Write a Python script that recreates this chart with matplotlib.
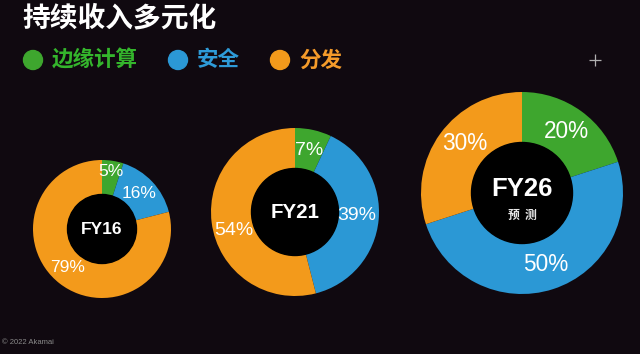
import numpy as np
import matplotlib
matplotlib.use("Agg")
import matplotlib.pyplot as plt
from matplotlib.patches import Circle

plt.rcParams['font.family'] = ['Liberation Sans', 'Noto Sans CJK SC', 'DejaVu Sans']

# ---- data ----
title = "持续收入多元化"
categories = ["边缘计算", "安全", "分发"]
years = ["FY16", "FY21", "FY26"]
year_sub = ["", "", "预测"]
shares = {
    "FY16": [5, 16, 79],
    "FY21": [7, 39, 54],
    "FY26": [20, 50, 30],
}
footer = "© 2022 Akamai"

# ---- style ----
colors = ["#3ea62e", "#2b98d5", "#f39a1b"]
text_colors = ["#34b52c", "#2e9bd8", "#f59b2a"]
bg = "#100910"
W, H = 640, 354

fig = plt.figure(figsize=(W / 100, H / 100), dpi=100, facecolor=bg)
ax = fig.add_axes([0, 0, 1, 1])
ax.set_facecolor(bg)

# layout: centre (px), outer radius, inner radius, label font, centre font
layout = [
    dict(c=(102, 229), R=69, r=34, lf=12.5, cf=12.5),
    dict(c=(295, 212), R=84, r=43, lf=14.0, cf=14.8),
    dict(c=(522, 193), R=101, r=50, lf=16.3, cf=18.5),
]
# per-label radial factor / angle tweak (deg)
label_adj = [
    [(1.13, 0), (1.0, 0), (1.0, -4)],
    [(1.0, 0), (0.97, 2), (1.0, 10)],
    [(1.0, 0), (1.0, 0), (1.0, -5)],
]

for i, yr in enumerate(years):
    L = layout[i]
    cx, cy = L["c"][0], H - L["c"][1]
    vals = shares[yr]
    ax.pie(vals, colors=colors, startangle=90, counterclock=False,
           radius=L["R"], center=(cx, cy), frame=True,
           wedgeprops=dict(width=L["R"] - L["r"], linewidth=0))
    ax.add_patch(Circle((cx, cy), L["r"] + 0.5, color="#000000", zorder=3))
    total = sum(vals)
    cum = 0
    mid_r = (L["R"] + L["r"]) / 2
    for j, v in enumerate(vals):
        ang = 90 - (cum + v / 2) / total * 360
        cum += v
        fr, da = label_adj[i][j]
        a = np.deg2rad(ang + da)
        ax.text(cx + mid_r * fr * np.cos(a), cy + mid_r * fr * np.sin(a),
                f"{v}%", color="white", fontsize=L["lf"], ha="center",
                va="center", zorder=5)
    if year_sub[i]:
        ax.text(cx, cy + 4, yr, color="white", fontsize=L["cf"],
                fontweight="bold", ha="center", va="center", zorder=5)
        ax.text(cx, cy - 22, "  ".join(year_sub[i]), color="#e8e8e8",
                fontsize=8.5, fontweight="bold", ha="center", va="center",
                zorder=5, family=['Noto Sans CJK SC', 'DejaVu Sans'])
    else:
        ax.text(cx, cy, yr, color="white", fontsize=L["cf"],
                fontweight="bold", ha="center", va="center", zorder=5)

# title
ax.text(22, H - 18, title, color="white", fontsize=20, fontweight="bold",
        ha="left", va="center", family=['Noto Sans CJK SC', 'DejaVu Sans'])

# legend
leg_x = [33, 178, 280]
for k, name in enumerate(categories):
    ax.add_patch(Circle((leg_x[k], H - 60), 9.5, color=colors[k], zorder=4))
    ax.text(leg_x[k] + 19, H - 60, name, color=text_colors[k], fontsize=15.5,
            fontweight="bold", ha="left", va="center",
            family=['Noto Sans CJK SC', 'DejaVu Sans'])

# footer & cross mark
ax.text(2, H - 343, footer, color="#8a8a8a", fontsize=5.5, ha="left",
        va="center")
ax.plot([595], [H - 60], marker="+", markersize=9, mew=0.9, color="#b0b0b0")

ax.set_xlim(0, W)
ax.set_ylim(0, H)
ax.set_aspect("equal")
ax.axis("off")

fig.savefig("out.png", dpi=100, facecolor=bg)
